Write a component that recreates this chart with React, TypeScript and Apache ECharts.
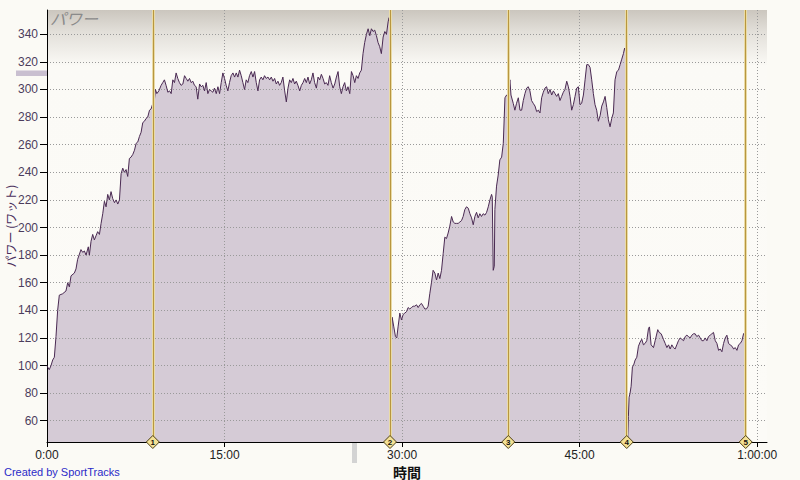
import React, { useEffect, useRef } from "react";
import * as echarts from "echarts";

// elapsed time in minutes
const timeMin = [
  0.0, 0.05, 0.19, 0.34, 0.48, 0.62, 0.76, 0.9, 1.04, 1.32, 1.6, 1.75, 1.89, 2.03, 2.31, 2.45, 2.59, 2.87, 3.02, 3.16,
  3.3, 3.49, 3.58, 3.72, 3.86, 4.0, 4.14, 4.28, 4.43, 4.57, 4.71, 4.85, 4.99, 5.13, 5.27, 5.41, 5.55, 5.7, 5.84, 5.98,
  6.12, 6.26, 6.4, 6.54, 6.68, 6.82, 6.96, 7.1, 7.25, 7.39, 7.53, 7.67, 7.81, 7.95, 8.09, 8.23, 8.37, 8.51, 8.66, 8.8,
  8.94, 8.99, 9.08, 9.16, 9.28, 9.45, 9.64, 9.78, 9.92, 10.06, 10.21, 10.35, 10.49, 10.63, 10.77, 10.91, 11.05, 11.19,
  11.33, 11.48, 11.62, 11.76, 11.9, 12.04, 12.18, 12.32, 12.46, 12.6, 12.74, 12.89, 13.03, 13.17, 13.31, 13.45, 13.59,
  13.73, 13.87, 14.01, 14.15, 14.3, 14.44, 14.58, 14.72, 14.86, 15.0, 15.14, 15.28, 15.42, 15.56, 15.71, 15.85, 15.99,
  16.13, 16.27, 16.41, 16.55, 16.69, 16.83, 16.97, 17.11, 17.26, 17.4, 17.54, 17.68, 17.82, 17.96, 18.1, 18.24, 18.38,
  18.52, 18.67, 18.81, 18.95, 19.09, 19.23, 19.37, 19.51, 19.65, 19.79, 19.93, 20.08, 20.22, 20.36, 20.5, 20.64, 20.78,
  20.92, 21.06, 21.2, 21.35, 21.49, 21.63, 21.77, 21.91, 22.05, 22.19, 22.33, 22.47, 22.61, 22.76, 22.9, 23.04, 23.18,
  23.32, 23.46, 23.6, 23.74, 23.88, 24.02, 24.17, 24.31, 24.45, 24.59, 24.73, 24.87, 25.01, 25.15, 25.29, 25.43, 25.58,
  25.72, 25.86, 26.0, 26.14, 26.28, 26.42, 26.56, 26.7, 26.84, 26.99, 27.13, 27.27, 27.41, 27.55, 27.69, 27.83, 27.97,
  28.11, 28.25, 28.4, 28.54, 28.68, 28.82, 28.9, 28.97, 29.02, 29.16, 29.3, 29.44, 29.55, 29.66, 29.81, 29.95, 30.09,
  30.23, 30.37, 30.51, 30.65, 30.79, 30.93, 31.07, 31.22, 31.36, 31.5, 31.64, 31.78, 31.92, 32.06, 32.2, 32.34, 32.48,
  32.62, 32.77, 32.91, 33.05, 33.19, 33.33, 33.47, 33.61, 33.75, 33.89, 34.03, 34.18, 34.32, 34.46, 34.6, 34.74, 34.88,
  35.02, 35.16, 35.3, 35.44, 35.59, 35.73, 35.87, 36.01, 36.15, 36.29, 36.43, 36.57, 36.71, 36.85, 37.0, 37.14, 37.28,
  37.42, 37.56, 37.62, 37.7, 37.79, 37.84, 37.98, 38.12, 38.26, 38.41, 38.55, 38.69, 38.83, 38.97, 39.11, 39.2, 39.39,
  39.53, 39.67, 39.82, 39.96, 40.1, 40.24, 40.38, 40.52, 40.66, 40.8, 40.94, 41.08, 41.23, 41.37, 41.51, 41.65, 41.79,
  41.93, 42.07, 42.21, 42.35, 42.5, 42.64, 42.78, 42.92, 43.06, 43.2, 43.34, 43.48, 43.62, 43.76, 43.91, 44.05, 44.19,
  44.33, 44.47, 44.61, 44.75, 44.89, 45.03, 45.17, 45.32, 45.46, 45.6, 45.74, 45.88, 46.02, 46.16, 46.3, 46.44, 46.58,
  46.73, 46.87, 47.01, 47.15, 47.29, 47.43, 47.57, 47.71, 47.85, 47.99, 48.14, 48.28, 48.42, 48.56, 48.7, 48.8, 48.9,
  48.96, 48.99, 49.06, 49.12, 49.18, 49.26, 49.35, 49.46, 49.55, 49.69, 49.83, 49.97, 50.11, 50.25, 50.39, 50.53, 50.67,
  50.82, 50.9, 51.04, 51.24, 51.38, 51.6, 51.72, 51.89, 52.08, 52.23, 52.37, 52.51, 52.65, 52.79, 52.93, 53.07, 53.21,
  53.35, 53.49, 53.64, 53.78, 53.92, 54.06, 54.2, 54.34, 54.48, 54.62, 54.76, 54.9, 55.05, 55.19, 55.33, 55.47, 55.61,
  55.75, 55.89, 56.03, 56.17, 56.31, 56.46, 56.6, 56.74, 56.88, 57.02, 57.16, 57.3, 57.44, 57.58, 57.72, 57.87, 58.01,
  58.15, 58.29, 58.43, 58.57, 58.71, 58.85, 58.94, 58.99, 59.02,
];

// power in watts
const power = [
  100, 99, 97, 100, 104, 106, 121, 140, 151, 152, 154, 160, 157, 165, 167, 170, 177, 184, 182, 183,
  180, 186, 180, 190, 195, 191, 194, 197, 195, 203, 210, 219, 215, 224, 220, 226, 221, 218, 220, 217,
  220, 239, 243, 240, 242, 237, 250, 251, 253, 256, 261, 262, 266, 269, 276, 277, 279, 280, 285, 286,
  290, 285, 293, 300, 297, 299, 303, 305, 307, 303, 298, 299, 297, 307, 305, 312, 308, 305,
  303, 304, 310, 308, 306, 308, 305, 306, 303, 302, 293, 304, 302, 303, 299, 305, 297,
  300, 299, 298, 301, 297, 302, 297, 305, 312, 308, 303, 299, 305, 310, 312, 309, 312,
  309, 314, 310, 305, 300, 307, 305, 310, 313, 309, 313, 305, 299, 307, 309, 307, 310,
  308, 309, 307, 309, 306, 308, 304, 306, 303, 305, 309, 299, 291, 301, 307, 305, 308,
  304, 306, 303, 299, 303, 305, 308, 305, 309, 304, 307, 312, 305, 301, 309, 307, 311,
  308, 304, 305, 303, 310, 305, 301, 304, 309, 313, 302, 297, 302, 305, 299, 302, 297,
  313, 310, 305, 310, 308, 312, 314, 326, 334, 340, 344, 339, 344, 342, 343, 339, 334,
  331, 326, 338, 342, 340, 349, 352, 350, 97, 135, 128, 121, 120, 128, 138, 133, 137,
  138, 139, 142, 141, 142, 143, 143, 144, 142, 144, 145, 143, 141, 141, 143, 152, 160,
  169, 167, 162, 167, 163, 169, 181, 193, 192, 196, 201, 208, 204, 203, 203, 203, 204,
  205, 208, 213, 215, 214, 210, 207, 202, 208, 211, 207, 210, 208, 210, 209, 211, 215,
  220, 224, 222, 169, 172, 213, 230, 238, 249, 251, 261, 294, 296, 297, 307, 296, 290,
  285, 290, 294, 285, 285, 292, 297, 301, 302, 299, 292, 290, 288, 284, 285, 283, 294,
  298, 301, 302, 297, 300, 296, 299, 297, 295, 297, 292, 295, 298, 300, 306, 302, 295,
  285, 289, 295, 301, 302, 289, 290, 296, 307, 318, 318, 316, 307, 297, 289, 285, 277,
  281, 288, 291, 295, 287, 278, 273, 279, 283, 307, 313, 314, 318, 322, 326, 330, 327,
  325, 50, 46, 63, 77, 80, 85, 99, 100, 104, 106, 114, 117, 119, 115, 116, 118,
  127, 128, 115, 113, 118, 126, 124, 123, 119, 116, 113, 115, 112, 115, 113, 112, 115,
  118, 120, 119, 118, 121, 122, 121, 120, 122, 123, 123, 121, 122, 120, 118, 118, 120,
  118, 121, 122, 123, 124, 118, 116, 111, 112, 110, 116, 120, 122, 116, 115, 114, 112,
  113, 111, 115, 116, 118, 123, 124, 104, 100,
];

const lapTimes = [8.94, 28.98, 38.97, 48.98, 59.03];
const lapLabels = ["1", "2", "3", "4", "5"];

const xTickValues = [0, 15, 30, 45, 60];
const xTickLabels = ["0:00", "15:00", "30:00", "45:00", "1:00:00"];
const yTickValues = [60, 80, 100, 120, 140, 160, 180, 200, 220, 240, 260, 280, 300, 320, 340];

const X_MIN = 0;
const X_MAX = 60.83;
const Y_MIN = 44.6;
const Y_MAX = 357.6;

const LATIN = "'Liberation Sans', Arial, sans-serif";
const CJK = "'Noto Sans CJK JP', sans-serif";

export default function App() {
  const ref = useRef<HTMLDivElement>(null);

  useEffect(() => {
    if (!ref.current) return;
    const chart = echarts.init(ref.current, null, { renderer: "svg" });
    const seriesData = timeMin.map((t, i) => [t, power[i]]);

    const lapLineData: any[] = [];
    lapTimes.forEach((t) => {
      lapLineData.push({ xAxis: t, lineStyle: { width: 3, color: "#e9dba6", type: "solid" } });
      lapLineData.push({ xAxis: t, lineStyle: { width: 1, color: "#b8963f", type: "solid" } });
    });

    const option: any = {
      animation: false,
      backgroundColor: "#fbfaf5",
      grid: {
        show: true,
        left: 47,
        right: 33,
        top: 10,
        bottom: 38,
        containLabel: false,
        outerBoundsMode: "none",
        borderWidth: 0,
        backgroundColor: new echarts.graphic.LinearGradient(0, 0, 0, 1, [
          { offset: 0, color: "#cbc6be" },
          { offset: 0.05, color: "#e2dfd9" },
          { offset: 0.13, color: "#fbfaf6" },
          { offset: 1, color: "#fcfbf7" },
        ]),
      },
      xAxis: {
        type: "value",
        min: X_MIN,
        max: X_MAX,
        z: 2,
        name: "時間",
        nameLocation: "middle",
        nameGap: 22,
        nameMoveOverlap: false,
        nameTextStyle: { fontFamily: CJK, fontSize: 14, fontWeight: "bold", color: "#111", lineHeight: 15 },
        axisLine: { show: true, onZero: false, lineStyle: { color: "#000", width: 1 } },
        axisTick: { show: true, length: 5, customValues: xTickValues, lineStyle: { color: "#000" } },
        axisLabel: {
          customValues: xTickValues,
          margin: 7,
          fontFamily: LATIN,
          fontSize: 12,
          color: "#222",
          formatter: (v: number) => {
            const i = xTickValues.indexOf(Math.round(v));
            return i >= 0 ? xTickLabels[i] : "";
          },
        },
        splitLine: { show: true, lineStyle: { color: "#9a9a9a", type: [1, 2], width: 1 } },
      },
      yAxis: {
        type: "value",
        min: Y_MIN,
        max: Y_MAX,
        z: 2,
        name: "パワー (ワット)",
        nameLocation: "middle",
        nameRotate: 90,
        nameGap: 31,
        nameMoveOverlap: false,
        nameTextStyle: { fontFamily: CJK, fontSize: 12, color: "#4a2e5c" },
        axisLine: { show: true, lineStyle: { color: "#000", width: 1 } },
        axisTick: { show: true, length: 7, customValues: yTickValues, lineStyle: { color: "#000" } },
        axisLabel: {
          customValues: yTickValues,
          margin: 9,
          fontFamily: LATIN,
          fontSize: 12,
          color: "#4b3c5c",
        },
        splitLine: { show: true, lineStyle: { color: "#9a9a9a", type: [1, 2], width: 1 } },
      },
      series: [
        {
          type: "line",
          data: seriesData,
          z: 1,
          showSymbol: false,
          symbol: "none",
          lineStyle: { width: 0 },
          areaStyle: { color: "#d5cbd6", opacity: 1, origin: "start" },
          silent: true,
        },
        {
          type: "line",
          data: seriesData,
          z: 3,
          showSymbol: false,
          symbol: "none",
          lineStyle: { width: 1, color: "#4a2a52" },
          silent: true,
          markLine: {
            silent: true,
            z: 4,
            symbol: ["none", "none"],
            label: { show: false },
            lineStyle: { color: "#d1a94a", width: 2, type: "solid" },
            data: lapLineData,
          },
        },
        {
          type: "scatter",
          z: 6,
          clip: false,
          silent: true,
          symbol: "diamond",
          symbolSize: [13, 13],
          itemStyle: { color: "#f4e194", borderColor: "#4d3f14", borderWidth: 1, opacity: 1 },
          label: {
            show: true,
            position: "inside",
            fontSize: 8,
            fontFamily: LATIN,
            fontWeight: "bold",
            color: "#111",
            formatter: (p: any) => lapLabels[p.dataIndex],
          },
          data: lapTimes.map((t) => [t, Y_MIN]),
        },
      ],
      graphic: [
        {
          type: "text",
          left: 50,
          top: 10,
          z: 10,
          style: { text: "パワー", fontFamily: CJK, fontSize: 16, fontStyle: "italic", fill: "#8a8a8a" },
        },
        {
          type: "rect",
          shape: { x: 16, y: 70.5, width: 31, height: 5.5 },
          style: { fill: "#c9bfd0" },
        },
        {
          type: "rect",
          shape: { x: 352, y: 441, width: 5, height: 22 },
          style: { fill: "#d3d3d3" },
        },
        {
          type: "text",
          left: 4,
          top: 466,
          style: { text: "Created by SportTracks", fontFamily: LATIN, fontSize: 11, fill: "#2b2bc8" },
        },
      ],
    };

    chart.setOption(option);
    return () => chart.dispose();
  }, []);

  return <div ref={ref} style={{ position: "fixed", left: 0, top: 0, width: 800, height: 480 }} />;
}
